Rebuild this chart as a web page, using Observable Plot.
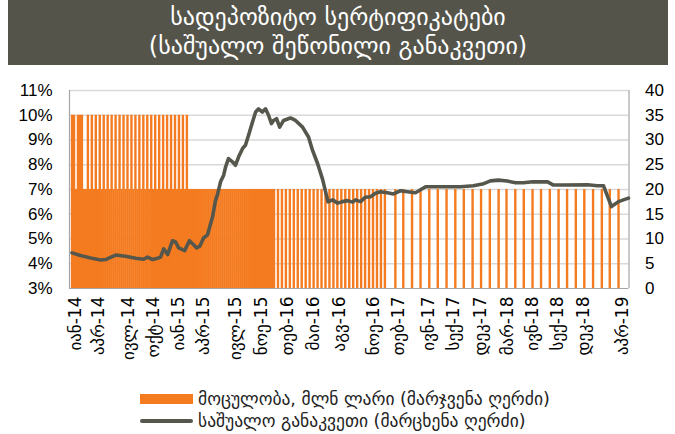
<!DOCTYPE html>
<html>
<head>
<meta charset="utf-8">
<script src="https://cdn.jsdelivr.net/npm/d3@7"></script>
<script src="https://cdn.jsdelivr.net/npm/@observablehq/plot@0.6"></script>
<style>
  html, body { margin: 0; padding: 0; background: #fff; }
  body { width: 675px; height: 434px; overflow: hidden; font-family: "DejaVu Sans", sans-serif; }
  #title { margin-left: 8px; width: 660px; height: 65px; background: #54544a; color: #fff;
           text-align: center; font-size: 24px; line-height: 29px; padding-top: 3px; box-sizing: border-box; }
  #chart { height: 310px; }
  #chart svg { display: block; overflow: visible; }
  #legend { padding-top: 13px; padding-left: 140px; font-size: 17.5px; color: #222; }
  .row { display: flex; align-items: center; height: 22px; white-space: nowrap; }
  .sw { display: inline-block; width: 53px; margin-right: 5px; }
</style>
</head>
<body>
<div id="title"></div>
<div id="chart"></div>
<div id="legend"></div>
<script>
// ---------- texts ----------
const titleLines = ["სადეპოზიტო სერტიფიკატები", "(საშუალო შეწონილი განაკვეთი)"];
const legendLabels = ["მოცულობა, მლნ ლარი (მარჯვენა ღერძი)", "საშუალო განაკვეთი (მარცხენა ღერძი)"];

// ---------- axes ----------
const xDomain = ["2013-12-21", "2019-05-22"];
const tickDates = ["2014-01-11","2014-04-01","2014-07-18","2014-10-14","2015-01-11","2015-04-09",
  "2015-07-30","2015-11-01","2016-02-01","2016-05-01","2016-08-01","2016-11-30","2017-02-28",
  "2017-06-12","2017-09-08","2017-12-13","2018-03-18","2018-06-15","2018-09-11","2018-12-12","2019-04-30"];
const tickLabels = ["იან-14","აპრ-14","ივლ-14","ოქტ-14","იან-15","აპრ-15","ივლ-15","ნოე-15","თებ-16",
  "მაი-16","აგვ-16","ნოე-16","თებ-17","ივნ-17","სექ-17","დეკ-17","მარ-18","ივნ-18","სექ-18","დეკ-18","აპრ-19"];
const leftTicks = [3, 4, 5, 6, 7, 8, 9, 10, 11];      // %
const rightTicks = [0, 5, 10, 15, 20, 25, 30, 35, 40]; // mln GEL

// ---------- volume (mln GEL), by auction calendar ----------
const weeklyStart = "2013-12-30";   // weekly auctions
const volumeWeekly = [35,35,20,35,35,35,20,20,
  35,20,35,20,35,20,35,20,35,20,35,20,35,20,35,20,35,20,35,20,35,20,35,20,35,20,35,20,35,20,
  35,20,35,20,35,20,35,20,35,20,35,20,35,20,35,20,35,20,35,20,35,
  20,20,20,20,20,20,20,20,20,20,20,20,20,20,20,20,20,20,20,20,20,20,20,20,20,20,20,20,20,20,
  20,20,20,20,20,20,20,20,20,20,20,20,20];
const fortnightlyStart = "2015-12-14"; // every two weeks
const volumeFortnightly = [20,20,20,20,20,20,20,20,20,20,20,20,20,20,20,20,20,20,20,20,20,20,20,20,20,20,20,20,20];
const monthlyStart = "2017-02-15";     // monthly
const volumeMonthly = [20,20,20,20,20,20,20,20,20,20,20,20,20,20,20,20,20,20,20,20,20,20,20,20,20,20,20];

// ---------- average rate (%) ----------
const rateDates = ["2013-12-30","2014-01-29","2014-03-06","2014-04-10","2014-04-28","2014-05-15","2014-06-02",
  "2014-07-07","2014-08-12","2014-09-09","2014-09-23","2014-10-11","2014-10-28","2014-11-08","2014-11-19",
  "2014-12-03","2014-12-20","2014-12-31","2015-01-11","2015-02-01","2015-02-18","2015-03-05","2015-03-15",
  "2015-03-26","2015-04-09","2015-04-23","2015-05-11","2015-05-21","2015-05-28","2015-06-08","2015-06-19",
  "2015-06-26","2015-07-06","2015-07-20","2015-07-31","2015-08-11","2015-08-25","2015-09-04","2015-09-15",
  "2015-09-29","2015-10-10","2015-10-20","2015-11-03","2015-11-14","2015-11-25","2015-12-05","2015-12-12",
  "2015-12-23","2016-01-03","2016-01-17","2016-02-10","2016-02-28","2016-03-24","2016-04-14","2016-04-28",
  "2016-05-16","2016-06-03","2016-06-22","2016-07-08","2016-07-26","2016-08-12","2016-08-30","2016-09-17",
  "2016-09-27","2016-10-15","2016-11-01","2016-11-19","2016-12-07","2016-12-24","2017-01-18","2017-02-08",
  "2017-03-05","2017-03-30","2017-04-27","2017-06-02","2017-06-30","2017-10-03","2017-11-18","2017-12-20",
  "2018-01-17","2018-02-14","2018-03-18","2018-04-16","2018-05-14","2018-06-15","2018-08-07","2018-08-28",
  "2018-10-02","2018-12-26","2019-01-30","2019-02-21","2019-03-21","2019-04-15","2019-05-20"];
const rateValues = [4.44,4.33,4.23,4.15,4.17,4.26,4.35,
  4.30,4.22,4.18,4.27,4.17,4.22,4.27,4.60,
  4.37,4.93,4.88,4.64,4.53,4.93,4.77,4.64,
  4.70,5.04,5.17,5.91,6.55,6.78,7.31,7.58,
  7.92,8.25,8.12,7.98,8.32,8.66,8.79,9.19,
  9.73,10.13,10.26,10.13,10.26,9.99,9.66,9.79,
  9.86,9.52,9.79,9.89,9.79,9.52,9.12,8.59,
  8.05,7.40,6.50,6.58,6.45,6.51,6.55,6.49,
  6.58,6.51,6.69,6.71,6.85,6.91,6.87,6.82,
  6.95,6.91,6.87,7.11,7.11,7.11,7.15,7.22,
  7.35,7.38,7.34,7.27,7.27,7.31,7.31,7.18,
  7.18,7.19,7.15,7.15,6.31,6.51,6.65];

// ---------- build tables ----------
const parse = s => new Date(s + "T00:00:00Z");
const bars = [
  ...volumeWeekly.map((v, i) => ({date: d3.utcDay.offset(parse(weeklyStart), 7 * i), volume: v})),
  ...volumeFortnightly.map((v, i) => ({date: d3.utcDay.offset(parse(fortnightlyStart), 14 * i), volume: v})),
  ...volumeMonthly.map((v, i) => ({date: d3.utcMonth.offset(parse(monthlyStart), i), volume: v}))
];
const rate = rateDates.map((d, i) => ({date: parse(d), rate: rateValues[i]}));
const labelByTime = new Map(tickDates.map((d, i) => [+parse(d), tickLabels[i]]));
const volToRate = v => 3 + v * (11 - 3) / 40;   // right axis (0..40) onto left axis (3..11)
const rateToVol = r => (r - 3) * 40 / (11 - 3);

const orange = "#f47b20", lineColor = "#56574c", axisGray = "#a6a6a6", gridGray = "#d9d9d9";
const x0 = parse(xDomain[0]), x1 = parse(xDomain[1]);

const chart = Plot.plot({
  width: 675, height: 310,
  marginLeft: 69, marginRight: 46.5, marginTop: 25, marginBottom: 87,
  x: {type: "utc", domain: [x0, x1]},
  y: {domain: [3, 11]},
  style: {background: "#fff", fontFamily: "'Liberation Sans', Arial, sans-serif", color: "#000"},
  marks: [
    Plot.gridY(leftTicks.slice(1), {stroke: gridGray, strokeOpacity: 1, strokeWidth: 1.3}),
    Plot.ruleX(bars, {x: "date", y1: 3, y2: d => volToRate(d.volume), stroke: orange, strokeWidth: 2.4}),
    Plot.ruleX([x0, x1], {y1: 3, y2: 11, stroke: axisGray, strokeWidth: 1.2}),
    Plot.ruleY([3], {stroke: axisGray, strokeWidth: 1.2}),
    Plot.line(rate, {x: "date", y: "rate", stroke: lineColor, strokeWidth: 3.6, strokeLinejoin: "round", strokeLinecap: "round"}),
    Plot.axisY(leftTicks, {anchor: "left", label: null, tickSize: 0, tickPadding: 17, tickFormat: d => d + "%", fontSize: 17}),
    Plot.axisY(rightTicks.map(volToRate), {anchor: "right", label: null, tickSize: 0, tickPadding: 16, tickFormat: d => String(Math.round(rateToVol(d))), fontSize: 17}),
    Plot.axisX(tickDates.map(parse), {anchor: "bottom", label: null, tickSize: 0, tickPadding: 8, tickRotate: -90,
      tickFormat: d => labelByTime.get(+d), fontSize: 17, fontFamily: "DejaVu Sans"})
  ]
});
document.getElementById("chart").appendChild(chart);

// title
const t = document.getElementById("title");
titleLines.forEach((s, i) => { if (i) t.appendChild(document.createElement("br")); t.appendChild(document.createTextNode(s)); });

// legend
const legend = document.getElementById("legend");
const swatches = [
  {label: legendLabels[0], style: `height:10px;background:${orange}`},
  {label: legendLabels[1], style: `height:4px;background:${lineColor};border-radius:2px`}
];
swatches.forEach(s => {
  const row = document.createElement("div"); row.className = "row";
  const sw = document.createElement("span"); sw.className = "sw"; sw.style.cssText = s.style;
  const tx = document.createElement("span"); tx.textContent = s.label;
  row.appendChild(sw); row.appendChild(tx); legend.appendChild(row);
});
</script>
</body>
</html>
